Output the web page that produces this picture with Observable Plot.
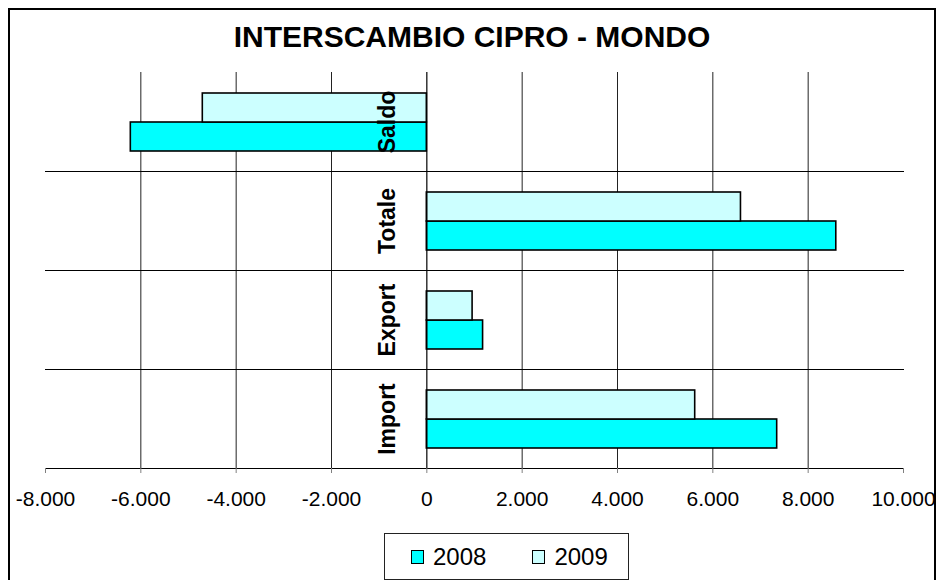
<!DOCTYPE html>
<html>
<head>
<meta charset="utf-8">
<script src="https://cdn.jsdelivr.net/npm/d3@7"></script>
<script src="https://cdn.jsdelivr.net/npm/@observablehq/plot@0.6"></script>
<style>
  html, body { margin: 0; padding: 0; background: #fff; overflow: hidden; }
  body { width: 937px; height: 580px; position: relative; font-family: Arial, "Liberation Sans", sans-serif; }
  #chart { position: absolute; left: 0; top: 0; }
  #border { position: absolute; left: 8px; top: 8px; width: 928px; height: 600px; box-sizing: border-box; border: 2px solid #000; pointer-events: none; }
  #title { position: absolute; left: 9px; width: 926px; top: 22px; text-align: center; font-weight: bold; font-size: 30px; line-height: 30px; color: #000; }
  #legend { position: absolute; left: 384px; top: 533px; width: 245px; height: 47px; box-sizing: border-box; border: 1px solid #222; background: #fff; display: flex; align-items: center; padding-left: 26px; }
  .item { display: flex; align-items: center; margin-right: 46px; }
  .sw { width: 13px; height: 14px; box-sizing: border-box; border: 1.5px solid #000; margin-right: 9px; }
  .lab { font-size: 24px; line-height: 24px; color: #000; }
</style>
</head>
<body>
<div id="chart"></div>
<div id="title"></div>
<div id="legend"></div>
<div id="border"></div>
<script>
const title = "INTERSCAMBIO CIPRO - MONDO";
const categories = ["Saldo", "Totale", "Export", "Import"];
const years = ["2008", "2009"];
const values2008 = [-6210, 8590, 1180, 7350];
const values2009 = [-4700, 6590, 960, 5630];
const xTicks = [-8000, -6000, -4000, -2000, 0, 2000, 4000, 6000, 8000, 10000];
const gridTicks = [-6000, -4000, -2000, 2000, 4000, 6000, 8000];
const colors = ["#00FFFF", "#CCFFFF"];

const data = [];
categories.forEach((c, i) => {
  data.push({category: c, year: years[0], value: values2008[i]});
  data.push({category: c, year: years[1], value: values2009[i]});
});

const it = d3.formatLocale({decimal: ",", thousands: ".", grouping: [3], currency: ["€", ""], minus: "-"});
const fmt = it.format(",.0f");

const chart = Plot.plot({
  width: 937,
  height: 580,
  marginLeft: 45,
  marginRight: 34,
  marginTop: 70,
  marginBottom: 111,
  style: {fontFamily: "Arial, 'Liberation Sans', sans-serif", background: "transparent", color: "#000"},
  x: {domain: [xTicks[0], xTicks[xTicks.length - 1]], axis: null, label: null},
  y: {domain: [years[1], years[0]], paddingInner: 0, paddingOuter: 0.7, axis: null},
  fy: {domain: categories, padding: 0, axis: null},
  color: {domain: years, range: colors},
  marks: [
    Plot.ruleX(gridTicks, {stroke: "#222", strokeWidth: 1}),
    Plot.frame({anchor: "bottom", stroke: "#000", strokeWidth: 1}),
    Plot.barX(data, {fy: "category", y: "year", x: "value", fill: "year", stroke: "#000", strokeWidth: 1.6}),
    Plot.ruleX([0], {stroke: "#000", strokeWidth: 1.2}),
    Plot.text(categories, {fy: d => d, x: d => 0, text: d => d, frameAnchor: "middle", rotate: -90,
      textAnchor: "middle", lineAnchor: "bottom", dx: -32, fontSize: 23, fontWeight: "bold", fill: "#000"}),
    Plot.axisX({ticks: xTicks, tickFormat: fmt, tickSize: 5, tickPadding: 18, fontSize: 21, stroke: "#808080", fill: "#000", label: null})
  ]
});
document.getElementById("chart").appendChild(chart);
document.getElementById("title").textContent = title;

const legend = document.getElementById("legend");
years.forEach((y, i) => {
  const item = document.createElement("div");
  item.className = "item";
  const sw = document.createElement("div");
  sw.className = "sw";
  sw.style.background = colors[i];
  const lab = document.createElement("span");
  lab.className = "lab";
  lab.textContent = y;
  item.appendChild(sw);
  item.appendChild(lab);
  legend.appendChild(item);
});
</script>
</body>
</html>
